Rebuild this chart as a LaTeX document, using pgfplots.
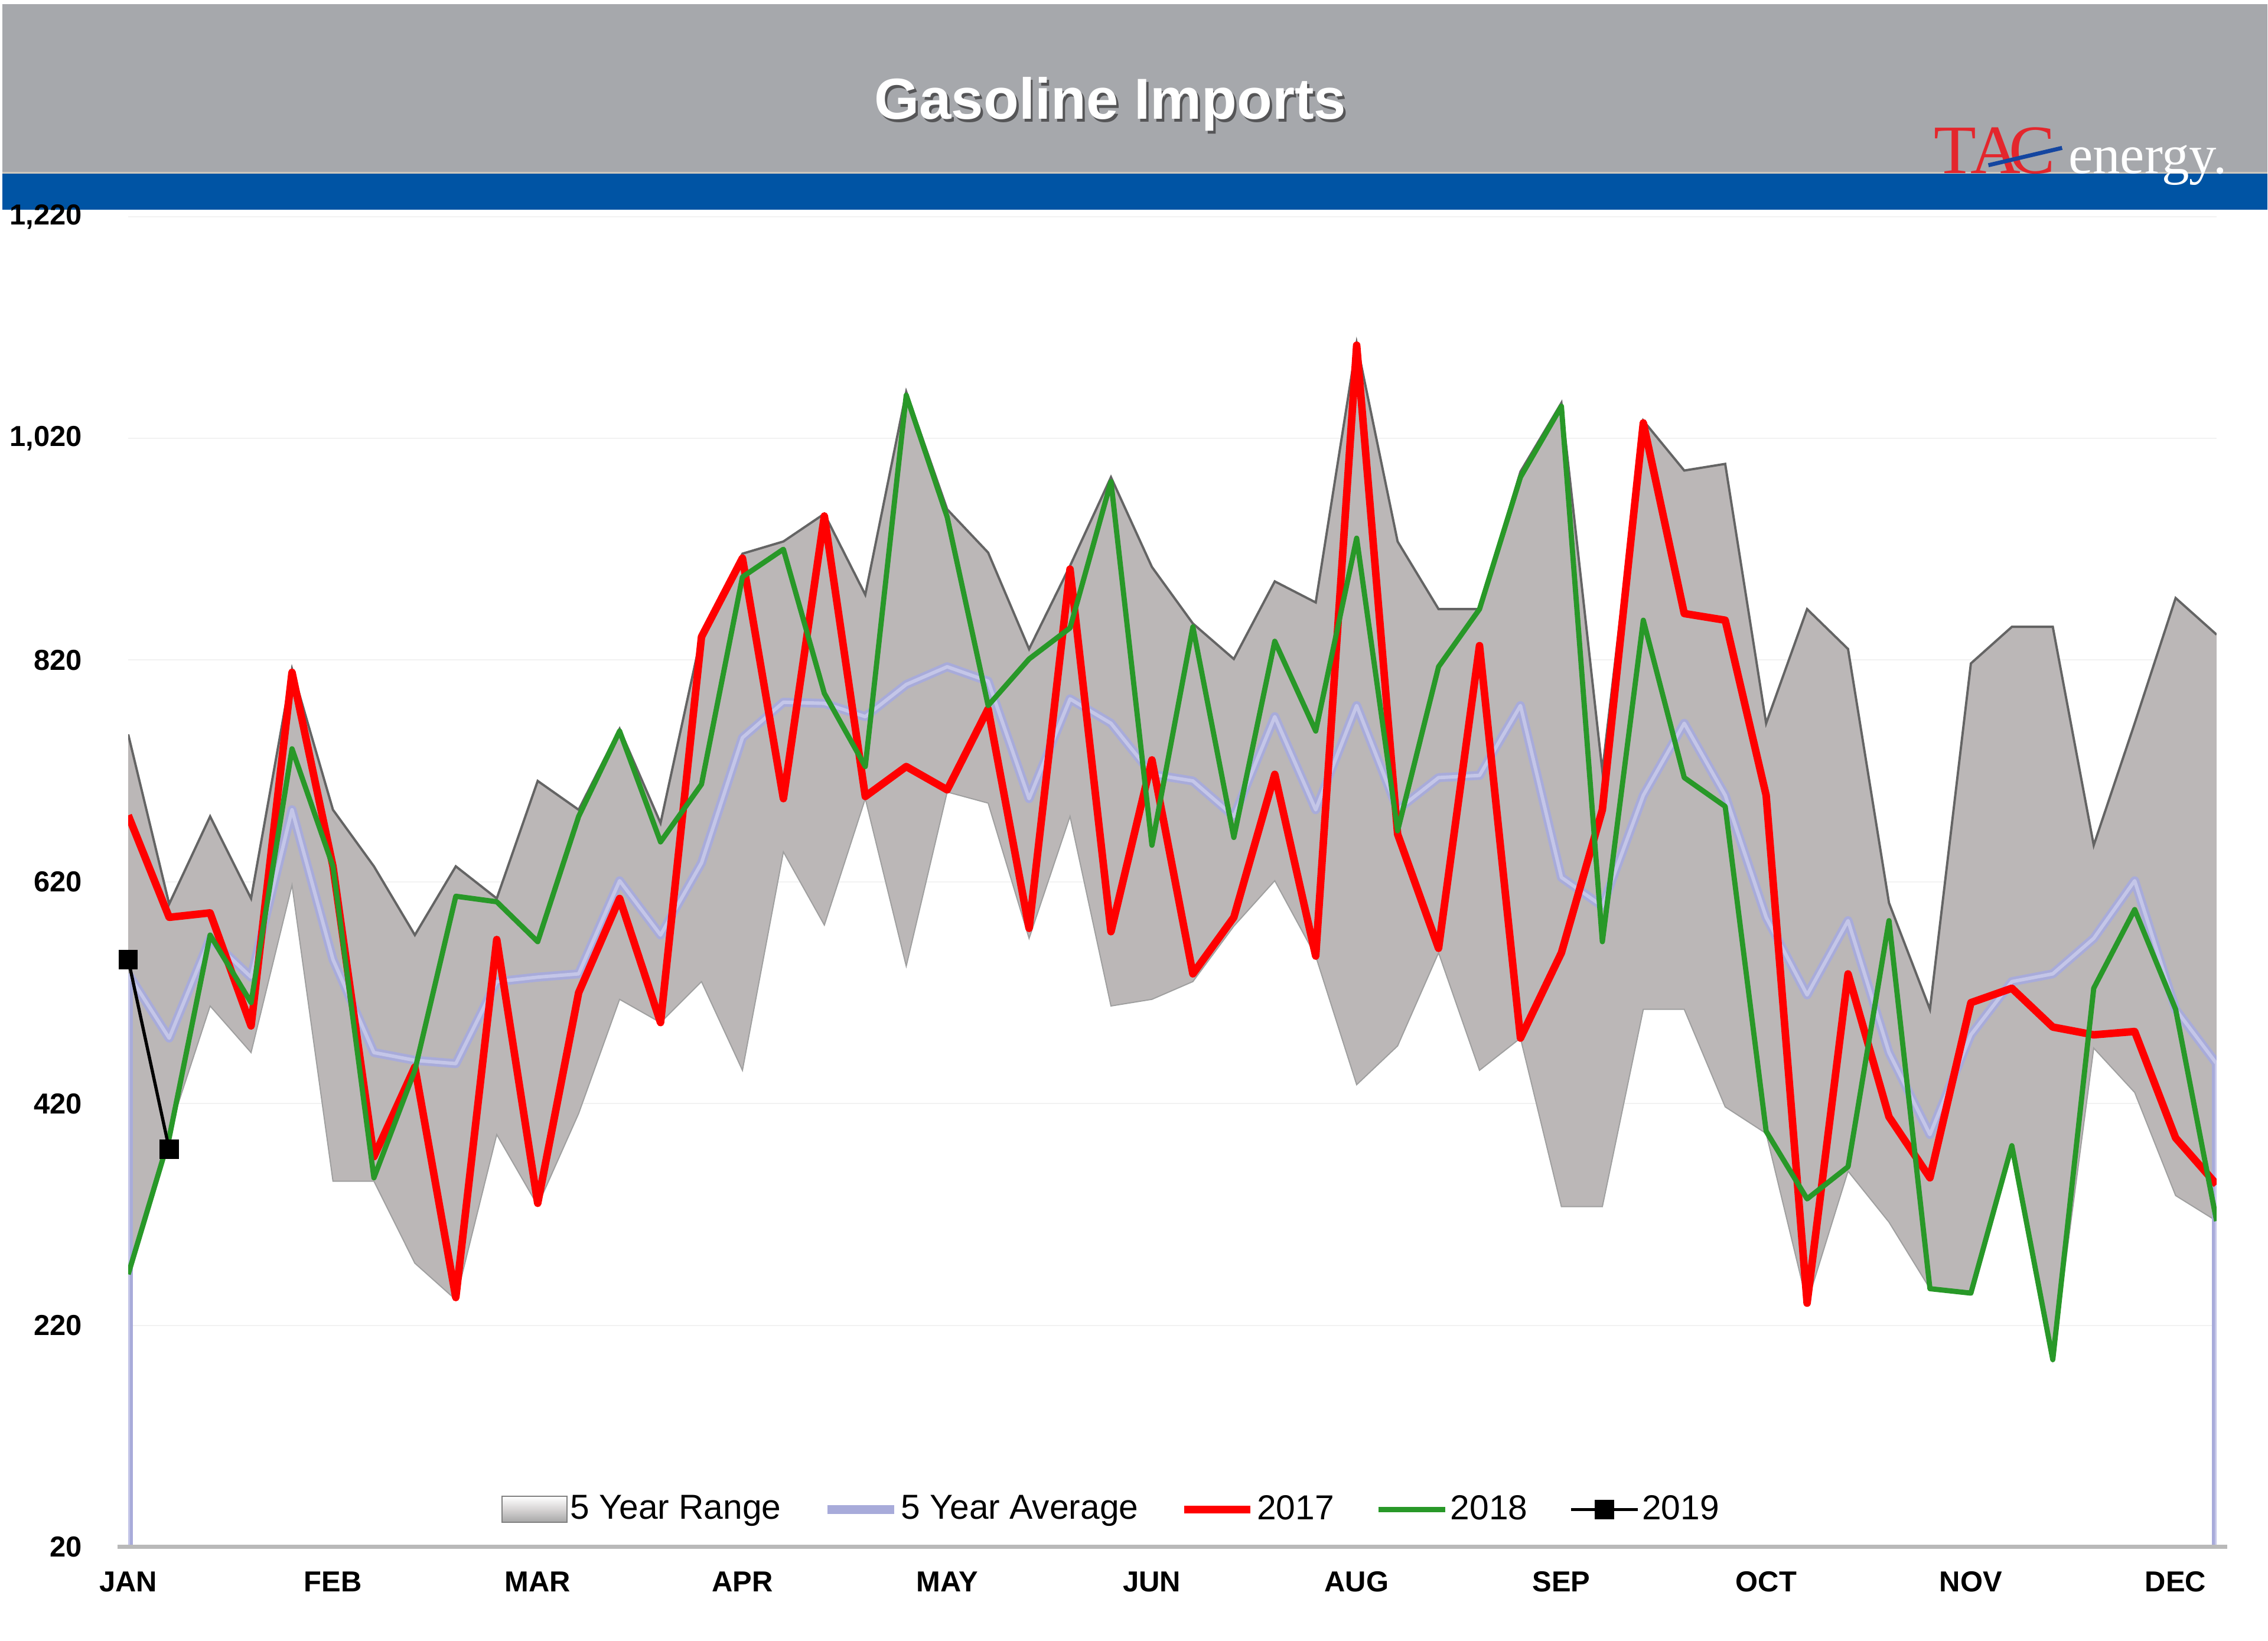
\documentclass[border=0pt]{standalone}
\usepackage{pgfplots}
\usepackage{pgfplotstable}
\pgfplotsset{compat=1.18}
\usepgfplotslibrary{fillbetween}
\usepackage{fontspec}
\setmainfont{Liberation Sans}
\setsansfont{Liberation Sans}
\newfontfamily\logofont{Liberation Serif}
\definecolor{hdrgray}{RGB}{166,168,172}
\definecolor{hdrblue}{RGB}{0,84,164}
\definecolor{rangegray}{RGB}{187,183,183}
\definecolor{rangeedge}{RGB}{100,100,100}
\definecolor{avgcol}{RGB}{168,171,218}
\definecolor{avghi}{RGB}{196,198,232}
\definecolor{c2017}{RGB}{255,0,0}
\definecolor{c2018}{RGB}{40,152,40}
\definecolor{logored}{RGB}{228,38,44}
\definecolor{logoblue}{RGB}{20,70,160}

\pgfplotstableread{
i upper lower avg r17 g18
0 753 264 537 680 266
1 600 395 479 588 389
2 679 508 569 592 572
3 605 466 534 490 511
4 812 617 685 809 740
5 685 350 550 634 634
6 634 350 466 372 353
7 572 276 459 453 450
8 634 243 456 245 607
9 605 392 530 568 602
10 711 328 534 330 566
11 685 411 537 520 679
12 758 514 621 605 756
13 673 493 572 493 656
14 843 530 637 841 708
15 916 450 750 912 895
16 927 647 782 695 920
17 952 581 781 950 790
18 879 695 769 697 724
19 1062 544 798 724 1059
20 956 701 814 703 949
21 917 691 801 776 779
22 830 569 695 578 821
23 905 679 785 902 849
24 985 508 763 575 981
25 904 514 717 730 653
26 853 530 711 537 850
27 821 580 679 588 660
28 891 621 769 717 837
29 872 553 685 553 756
30 1106 437 779 1104 930
31 927 472 685 663 666
32 866 556 714 560 814
33 866 450 716 833 866
34 990 479 779 479 985
35 1052 327 624 556 1049
36 720 327 598 685 566
37 1036 505 698 1034 856
38 991 505 763 862 714
39 997 417 698 856 688
40 763 393 588 698 395
41 866 240 518 240 334
42 830 359 585 537 363
43 601 313 466 408 585
44 505 253 392 353 253
45 817 249 482 511 249
46 850 382 530 524 382
47 850 189 537 489 189
48 653 470 569 482 524
49 763 430 621 485 595
50 876 337 505 389 505
51 843 314 456 347 314
}\datatable

\begin{document}
\begin{tikzpicture}
\path (0pt,0pt) rectangle (784pt,568pt);
\fill[hdrgray] (0pt,508pt) rectangle (784pt,566.5pt);
\fill[hdrblue] (0pt,495.5pt) rectangle (784pt,508pt);
\draw[line width=0.6pt, color={rgb,255:red,205;green,200;blue,190}] (0pt,508.2pt) -- (784pt,508.2pt);
% title
\node[text=black!80, opacity=0.7, font=\bfseries\fontsize{20}{24}\selectfont] at (384.3pt,530.9pt) {Gasoline Imports};
\node[text=white, font=\bfseries\fontsize{20}{24}\selectfont] at (383.5pt,532pt) {Gasoline Imports};
% logo
\node[anchor=base west, inner sep=0pt, text=logored, font=\logofont\fontsize{24}{24}\selectfont] at (668.5pt,508pt) {T\kern-2pt A\kern-4pt C};
\draw[logoblue, line width=1.4pt] (687.5pt,510.8pt) -- (713pt,516.8pt);
\node[anchor=base west, inner sep=0pt, text=white, font=\logofont\fontsize{19}{19}\selectfont] at (715pt,508pt) {energy.};

\begin{axis}[
  at={(43.5pt,32.5pt)}, anchor=south west,
  scale only axis, width=723pt, height=460.5pt,
  xmin=0, xmax=51, ymin=20, ymax=1220,
  axis line style={draw=none},
  major tick length=0pt,
  xtick={0,5,...,50},
  xticklabels={JAN,FEB,MAR,APR,MAY,JUN,AUG,SEP,OCT,NOV,DEC},
  ytick={20,220,420,620,820,1020,1220},
  yticklabels={20,220,420,620,820,{1,020},{1,220}},
  ticklabel style={font=\bfseries\fontsize{10}{12}\selectfont},
  xticklabel style={yshift=-5pt},
  yticklabel style={xshift=-12.5pt},
  ymajorgrids, major grid style={draw=gray!10, line width=0.4pt},
  clip mode=individual,
  legend image code/.code={\draw[mark repeat=2,mark phase=2,#1] plot coordinates {(0pt,0pt) (11.5pt,0pt) (23pt,0pt)};},
  legend style={at={(0.1784,0.0282)}, anchor=west, draw=none, fill=none, inner sep=0pt,
    legend columns=-1, font=\fontsize{12}{14}\selectfont,
    nodes={inner xsep=1pt},
    /tikz/every even column/.append style={column sep=13.5pt}},
]
\addplot[name path=up, draw=none, forget plot] table[x=i,y=upper]{\datatable};
\addplot[name path=lo, draw=none, forget plot] table[x=i,y=lower]{\datatable};
\addplot[fill=rangegray, draw=none,
  legend image code/.code={\draw[draw=gray, top color=white, bottom color=gray!70, middle color=rangegray!60] (0pt,-4.5pt) rectangle (22.5pt,4.5pt);}]
  fill between[of=up and lo];
\addlegendentry{5 Year Range}
\addplot[rangeedge, line width=0.8pt, forget plot] table[x=i,y=upper]{\datatable};
\addplot[gray!75, line width=0.4pt, forget plot] table[x=i,y=lower]{\datatable};
\addplot[avgcol, line width=3.1pt, line join=round] table[x=i,y=avg]{\datatable};
\addlegendentry{5 Year Average}
\addplot[avgcol, line width=3.1pt, forget plot] coordinates {(0,20) (0,537)};
\addplot[avgcol, line width=3.1pt, forget plot] coordinates {(51,456) (51,20)};
\addplot[avghi, line width=1.2pt, line join=round, forget plot] table[x=i,y=avg]{\datatable};
\addplot[avghi, line width=1.2pt, forget plot] coordinates {(0,20) (0,537)};
\addplot[avghi, line width=1.2pt, forget plot] coordinates {(51,456) (51,20)};
\addplot[c2017, line width=2.6pt, line join=round] table[x=i,y=r17]{\datatable};
\addlegendentry{2017}
\addplot[c2018, line width=1.8pt, line join=round] table[x=i,y=g18]{\datatable};
\addlegendentry{2018}
\addplot[black, line width=1.1pt, mark=square*, mark size=2.8pt, mark options={solid}] coordinates {(0,550) (1,379)};
\addlegendentry{2019}
\draw[gray!55, line width=1.4pt] (rel axis cs:-0.005,0) -- (rel axis cs:1.005,0);
\end{axis}
\end{tikzpicture}
\end{document}
